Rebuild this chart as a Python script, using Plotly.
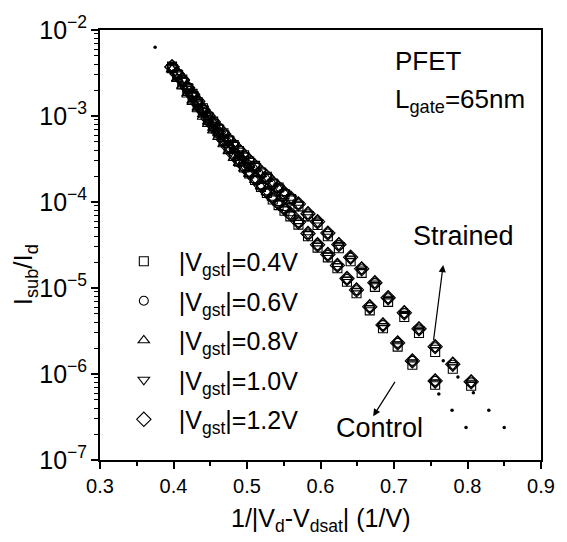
import plotly.graph_objects as go

# 1/|Vd - Vdsat| (1/V) sample points for the strained and control devices
STRAINED_X = [0.398, 0.405, 0.412, 0.419, 0.426, 0.433, 0.440, 0.447, 0.454, 0.461,
              0.468, 0.475, 0.482, 0.489, 0.496, 0.503, 0.511, 0.519, 0.527, 0.535,
              0.543, 0.551, 0.560, 0.570, 0.583, 0.596, 0.610, 0.625, 0.641, 0.656,
              0.674, 0.692, 0.714, 0.734, 0.756, 0.780, 0.805]
CONTROL_X = [0.398, 0.405, 0.412, 0.419, 0.426, 0.433, 0.440, 0.447, 0.454, 0.461,
             0.468, 0.475, 0.482, 0.489, 0.496, 0.503, 0.511, 0.519, 0.527, 0.535,
             0.543, 0.551, 0.559, 0.570, 0.583, 0.596, 0.610, 0.623, 0.636, 0.649,
             0.667, 0.685, 0.705, 0.725, 0.756]

# Isub/Id for each |Vgst|, strained devices
STRAINED_04 = [3.75e-3, 3.05e-3, 2.66e-3, 2.12e-3, 1.81e-3, 1.44e-3, 1.23e-3, 9.8e-4, 8.6e-4, 7.1e-4,
               6.3e-4, 5.2e-4, 4.6e-4, 3.9e-4, 3.5e-4, 2.95e-4, 2.63e-4, 2.2e-4, 1.97e-4, 1.64e-4,
               1.47e-4, 1.24e-4, 1.08e-4, 8.9e-5, 6.8e-5, 5.4e-5, 4.0e-5, 2.9e-5, 2.05e-5, 1.5e-5,
               1.03e-5, 6.9e-6, 4.6e-6, 3.0e-6, 1.8e-6, 1.15e-6, 7.3e-7]
STRAINED_06 = [3.70e-3, 3.12e-3, 2.60e-3, 2.18e-3, 1.76e-3, 1.49e-3, 1.20e-3, 1.02e-3, 8.4e-4, 7.35e-4,
               6.15e-4, 5.40e-4, 4.52e-4, 4.02e-4, 3.40e-4, 3.05e-4, 2.58e-4, 2.28e-4, 1.93e-4, 1.70e-4,
               1.44e-4, 1.29e-4, 1.10e-4, 9.4e-5, 7.2e-5, 5.8e-5, 4.3e-5, 3.15e-5, 2.25e-5, 1.65e-5,
               1.14e-5, 7.6e-6, 5.1e-6, 3.3e-6, 2.05e-6, 1.28e-6, 8.0e-7]
STRAINED_08 = [3.5e-3, 2.75e-3, 2.25e-3, 1.85e-3, 1.52e-3, 1.25e-3, 1.04e-3, 8.6e-4, 7.3e-4, 6.3e-4,
               5.4e-4, 4.6e-4, 4.0e-4, 3.5e-4, 3.05e-4, 2.7e-4, 2.4e-4, 2.1e-4, 1.85e-4, 1.62e-4,
               1.43e-4, 1.27e-4, 1.12e-4, 9.8e-5, 7.6e-5, 6.1e-5, 4.5e-5, 3.35e-5, 2.35e-5, 1.75e-5,
               1.2e-5, 8.0e-6, 5.4e-6, 3.5e-6, 2.15e-6, 1.36e-6, 8.5e-7]
STRAINED_10 = [3.65e-3, 3.15e-3, 2.58e-3, 2.20e-3, 1.80e-3, 1.46e-3, 1.22e-3, 1.01e-3, 8.45e-4, 7.3e-4,
               6.25e-4, 5.35e-4, 4.62e-4, 3.95e-4, 3.46e-4, 3.0e-4, 2.62e-4, 2.26e-4, 1.96e-4, 1.69e-4,
               1.47e-4, 1.28e-4, 1.1e-4, 9.3e-5, 7.2e-5, 5.8e-5, 4.25e-5, 3.15e-5, 2.2e-5, 1.64e-5,
               1.13e-5, 7.5e-6, 5.0e-6, 3.28e-6, 2.02e-6, 1.27e-6, 7.9e-7]
STRAINED_12 = [3.72e-3, 3.08e-3, 2.64e-3, 2.14e-3, 1.79e-3, 1.48e-3, 1.19e-3, 1.01e-3, 8.55e-4, 7.2e-4,
               6.2e-4, 5.3e-4, 4.55e-4, 3.99e-4, 3.42e-4, 3.02e-4, 2.6e-4, 2.24e-4, 1.96e-4, 1.67e-4,
               1.46e-4, 1.26e-4, 1.1e-4, 9.5e-5, 7.3e-5, 5.9e-5, 4.35e-5, 3.2e-5, 2.28e-5, 1.67e-5,
               1.15e-5, 7.7e-6, 5.15e-6, 3.35e-6, 2.08e-6, 1.3e-6, 8.1e-7]

# Isub/Id for each |Vgst|, control devices
CONTROL_04 = [3.6e-3, 3.0e-3, 2.5e-3, 2.04e-3, 1.66e-3, 1.35e-3, 1.10e-3, 9.0e-4, 7.5e-4, 6.25e-4,
              5.1e-4, 4.2e-4, 3.45e-4, 2.95e-4, 2.52e-4, 2.15e-4, 1.8e-4, 1.5e-4, 1.27e-4, 1.07e-4,
              9.2e-5, 7.9e-5, 6.8e-5, 5.45e-5, 4.0e-5, 2.95e-5, 2.27e-5, 1.7e-5, 1.18e-5, 8.7e-6,
              5.5e-6, 3.4e-6, 2.08e-6, 1.28e-6, 7.5e-7]
CONTROL_06 = [3.66e-3, 3.1e-3, 2.53e-3, 2.11e-3, 1.68e-3, 1.40e-3, 1.12e-3, 9.35e-4, 7.6e-4, 6.5e-4,
              5.2e-4, 4.35e-4, 3.5e-4, 3.08e-4, 2.57e-4, 2.25e-4, 1.83e-4, 1.57e-4, 1.30e-4, 1.12e-4,
              9.5e-5, 8.35e-5, 7.1e-5, 5.8e-5, 4.2e-5, 3.15e-5, 2.42e-5, 1.82e-5, 1.27e-5, 9.4e-6,
              6.0e-6, 3.7e-6, 2.3e-6, 1.42e-6, 8.3e-7]
CONTROL_08 = [3.45e-3, 2.7e-3, 2.2e-3, 1.78e-3, 1.46e-3, 1.2e-3, 9.8e-4, 8.1e-4, 6.8e-4, 5.7e-4,
              4.7e-4, 3.9e-4, 3.25e-4, 2.85e-4, 2.45e-4, 2.12e-4, 1.8e-4, 1.52e-4, 1.3e-4, 1.12e-4,
              9.7e-5, 8.5e-5, 7.4e-5, 6.0e-5, 4.45e-5, 3.3e-5, 2.55e-5, 1.9e-5, 1.34e-5, 9.9e-6,
              6.3e-6, 3.9e-6, 2.4e-6, 1.48e-6, 8.7e-7]
CONTROL_10 = [3.7e-3, 3.05e-3, 2.57e-3, 2.07e-3, 1.72e-3, 1.37e-3, 1.14e-3, 9.15e-4, 7.75e-4, 6.35e-4,
              5.3e-4, 4.25e-4, 3.56e-4, 3.0e-4, 2.62e-4, 2.2e-4, 1.86e-4, 1.54e-4, 1.32e-4, 1.1e-4,
              9.6e-5, 8.2e-5, 7.2e-5, 5.7e-5, 4.25e-5, 3.1e-5, 2.38e-5, 1.79e-5, 1.25e-5, 9.3e-6,
              5.85e-6, 3.6e-6, 2.22e-6, 1.37e-6, 8.0e-7]
CONTROL_12 = [3.72e-3, 3.09e-3, 2.6e-3, 2.12e-3, 1.73e-3, 1.39e-3, 1.15e-3, 9.3e-4, 7.8e-4, 6.45e-4,
              5.3e-4, 4.32e-4, 3.58e-4, 3.05e-4, 2.63e-4, 2.24e-4, 1.88e-4, 1.56e-4, 1.33e-4, 1.13e-4,
              9.7e-5, 8.4e-5, 7.25e-5, 5.85e-5, 4.3e-5, 3.18e-5, 2.45e-5, 1.83e-5, 1.29e-5, 9.5e-6,
              6.05e-6, 3.72e-6, 2.3e-6, 1.42e-6, 8.3e-7]

# Small dotted points extending beyond the measured range
DOT_STRAINED_X = [0.375, 0.767, 0.787, 0.808, 0.829, 0.850]
DOT_STRAINED_Y = [6.3e-3, 1.43e-6, 9.2e-7, 6.05e-7, 3.78e-7, 2.39e-7]
DOT_CONTROL_X = [0.761, 0.779, 0.798]
DOT_CONTROL_Y = [5.86e-7, 3.78e-7, 2.39e-7]

VGST_LABELS = ["|V<sub>gst</sub>|=0.4V", "|V<sub>gst</sub>|=0.6V", "|V<sub>gst</sub>|=0.8V",
               "|V<sub>gst</sub>|=1.0V", "|V<sub>gst</sub>|=1.2V"]
X_TICKS = [0.3, 0.4, 0.5, 0.6, 0.7, 0.8, 0.9]

FONT = "Arial, Liberation Sans, Helvetica, sans-serif"
SYMBOLS = ["square-open", "circle-open", "triangle-up-open", "triangle-down-open", "diamond-open"]
SIZES = [9, 9, 10, 10, 11]

strained_sets = [STRAINED_04, STRAINED_06, STRAINED_08, STRAINED_10, STRAINED_12]
control_sets = [CONTROL_04, CONTROL_06, CONTROL_08, CONTROL_10, CONTROL_12]

fig = go.Figure()

for i, (label, ys) in enumerate(zip(VGST_LABELS, strained_sets)):
    fig.add_trace(go.Scatter(
        x=STRAINED_X, y=ys, mode="markers", name=label, legendgroup=f"g{i}",
        marker=dict(symbol=SYMBOLS[i], size=SIZES[i], color="black", line=dict(width=1.1)),
    ))
for i, ys in enumerate(control_sets):
    fig.add_trace(go.Scatter(
        x=CONTROL_X, y=ys, mode="markers", showlegend=False, legendgroup=f"g{i}",
        marker=dict(symbol=SYMBOLS[i], size=SIZES[i], color="black", line=dict(width=1.1)),
    ))

for xs, ys in [(DOT_STRAINED_X, DOT_STRAINED_Y), (DOT_CONTROL_X, DOT_CONTROL_Y)]:
    fig.add_trace(go.Scatter(
        x=xs, y=ys, mode="markers", showlegend=False,
        marker=dict(symbol="circle", size=3.5, color="black"),
    ))

axis_common = dict(
    showline=True, linewidth=2, linecolor="black", mirror=True,
    showgrid=False, zeroline=False,
    ticks="outside", ticklen=7, tickwidth=1.5, tickcolor="black",
    tickfont=dict(family=FONT, size=20, color="black"),
)

fig.update_xaxes(
    range=[0.3, 0.9], tickvals=X_TICKS, ticktext=[f"{v:.1f}" for v in X_TICKS],
    minor=dict(dtick=0.05, tick0=0.3, ticks="outside", ticklen=4, tickwidth=1.5, tickcolor="black"),
    **axis_common,
)
fig.update_yaxes(
    type="log", range=[-7, -2], dtick=1, exponentformat="power",
    minor=dict(ticks="outside", ticklen=4, tickwidth=1, tickcolor="black", dtick="D1"),
    **axis_common,
)

annotations = [
    dict(text="1/|V<sub>d</sub>-V<sub>dsat</sub>| (1/V)", xref="paper", yref="paper",
         x=0.5, y=-0.14, xanchor="center", yanchor="middle", showarrow=False,
         font=dict(family=FONT, size=25, color="black")),
    dict(text="I<sub>sub</sub>/I<sub>d</sub>", xref="paper", yref="paper",
         x=-0.172, y=0.43, xanchor="center", yanchor="middle", textangle=-90, showarrow=False,
         font=dict(family=FONT, size=26, color="black")),
    dict(text="PFET", xref="paper", yref="paper", x=0.664, y=0.929,
         xanchor="left", yanchor="middle", showarrow=False,
         font=dict(family=FONT, size=26, color="black")),
    dict(text="L<sub>gate</sub>=65nm", xref="paper", yref="paper", x=0.664, y=0.835,
         xanchor="left", yanchor="middle", showarrow=False,
         font=dict(family=FONT, size=26, color="black")),
    dict(text="Strained", xref="paper", yref="paper", x=0.705, y=0.522,
         xanchor="left", yanchor="middle", showarrow=False,
         font=dict(family=FONT, size=27, color="black")),
    dict(text="Control", xref="paper", yref="paper", x=0.531, y=0.075,
         xanchor="left", yanchor="middle", showarrow=False,
         font=dict(family=FONT, size=27, color="black")),
    # arrows pointing at each group of curves
    dict(text="", x=0.7669, y=-4.732, ax=0.7536, ay=-5.620, xref="x", yref="y",
         axref="x", ayref="y", showarrow=True, arrowhead=2, arrowsize=1.2, arrowwidth=1.2,
         arrowcolor="black"),
    dict(text="", x=0.6717, y=-6.490, ax=0.7026, ay=-6.074, xref="x", yref="y",
         axref="x", ayref="y", showarrow=True, arrowhead=2, arrowsize=1.2, arrowwidth=1.2,
         arrowcolor="black"),
]

fig.update_layout(
    width=567, height=542,
    margin=dict(l=100, r=15, t=21, b=82),
    paper_bgcolor="white", plot_bgcolor="white",
    font=dict(family=FONT, color="black"),
    annotations=annotations,
    legend=dict(
        x=0.02, y=0.515, xanchor="left", yanchor="top",
        font=dict(family=FONT, size=25, color="black"),
        bgcolor="rgba(0,0,0,0)", tracegroupgap=4, traceorder="grouped",
        itemwidth=60,
    ),
)

fig.write_html("out.html")
